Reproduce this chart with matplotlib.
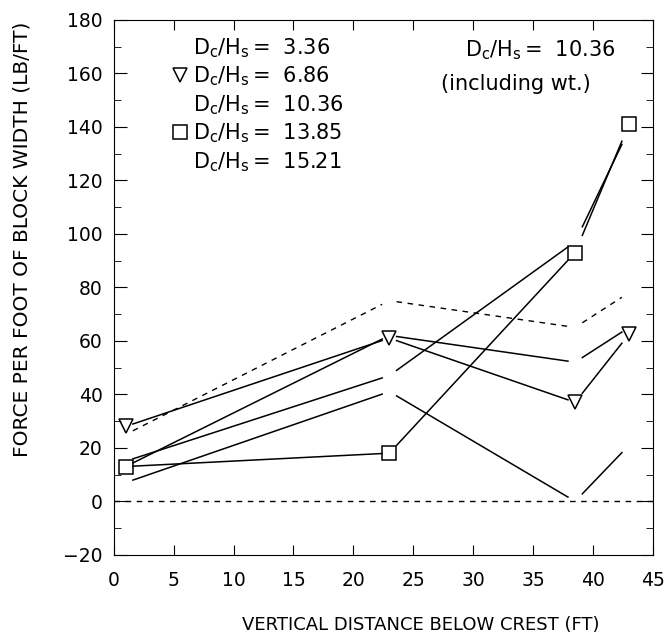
import matplotlib
matplotlib.use('Agg')
import matplotlib.pyplot as plt
import numpy as np

# depth positions (ft) where the forces were measured
depth = [1, 23, 38.5, 43]

# force per foot of block width (lb/ft) for each Dc/Hs
f_336 = [15, 47, 97, 139]
f_686 = [28, 61, 37, 62.5]
f_1036 = [13, 62, 52, 65]
f_1385 = [13, 18, 93, 141]
f_1521 = [7, 41, 0, 21]
f_1036_wt = [25, 75, 65, 78]

labels = ['3.36', '6.86', '10.36', '13.85', '15.21']
markers = [None, 'v', None, 's', None]

plt.rcParams['font.family'] = 'DejaVu Sans'
plt.rcParams['mathtext.fontset'] = 'dejavusans'

fig = plt.figure(figsize=(6.65, 6.37), dpi=100)
ax = fig.add_axes([0.171, 0.129, 0.811, 0.840])

GAP = 0.6  # old plotter leaves a gap around every data point


def gapped(xs, ys, **kw):
    for i in range(len(xs) - 1):
        x0, x1 = xs[i], xs[i + 1]
        y0, y1 = ys[i], ys[i + 1]
        t0 = GAP / (x1 - x0)
        t1 = 1 - t0
        ax.plot([x0 + t0 * (x1 - x0), x0 + t1 * (x1 - x0)],
                [y0 + t0 * (y1 - y0), y0 + t1 * (y1 - y0)], color='k', **kw)


all_series = [f_336, f_686, f_1036, f_1385, f_1521]
for ys, m in zip(all_series, markers):
    gapped(depth, ys, lw=1.1)
    if m:
        ax.plot(depth, ys, ls='none', marker=m, ms=10, mfc='none', mec='k',
                mew=1.1, clip_on=False)

gapped(depth, f_1036_wt, lw=1.0, ls=(0, (4, 4)))
ax.plot([0, 45], [0, 0], color='k', lw=1.0, ls=(0, (4, 4)))

ratio = r'D$_\mathrm{c}$/H$_\mathrm{s}\,$=  '

# legend drawn by hand (text list with markers)
for i, (lab, m) in enumerate(zip(labels, markers)):
    yb = 0.935 - i * 0.053
    ax.text(0.147, yb, ratio + lab, transform=ax.transAxes,
            fontsize=15, va='baseline', ha='left')
    if m:
        ax.plot([0.122], [yb + 0.015], transform=ax.transAxes, marker=m, ms=10,
                mfc='none', mec='k', mew=1.1, ls='none', clip_on=False)

ax.text(0.790, 0.931, ratio + '10.36', transform=ax.transAxes,
        fontsize=15, va='baseline', ha='center')
ax.text(0.746, 0.869, '(including wt.)', transform=ax.transAxes,
        fontsize=15, va='baseline', ha='center')

ax.set_xlim(0, 45)
ax.set_ylim(-20, 180)
ax.set_xticks(np.arange(0, 46, 5))
ax.set_yticks(np.arange(-20, 181, 20))
ax.set_yticks(np.arange(-20, 181, 10), minor=True)
ax.tick_params(axis='both', which='both', direction='in', top=True, right=True,
               labelsize=13.5, pad=8)
ax.tick_params(axis='y', which='major', length=9)
ax.tick_params(axis='y', which='minor', length=5)
ax.tick_params(axis='x', which='major', length=7, pad=12)
ax.set_xlabel('VERTICAL DISTANCE BELOW CREST (FT)', fontsize=13)
ax.set_ylabel('FORCE PER FOOT OF BLOCK WIDTH (LB/FT)', fontsize=14.5)
ax.xaxis.set_label_coords(0.57, -0.115)
ax.yaxis.set_label_coords(-0.152, 0.589)

fig.savefig('out.png', dpi=100)
